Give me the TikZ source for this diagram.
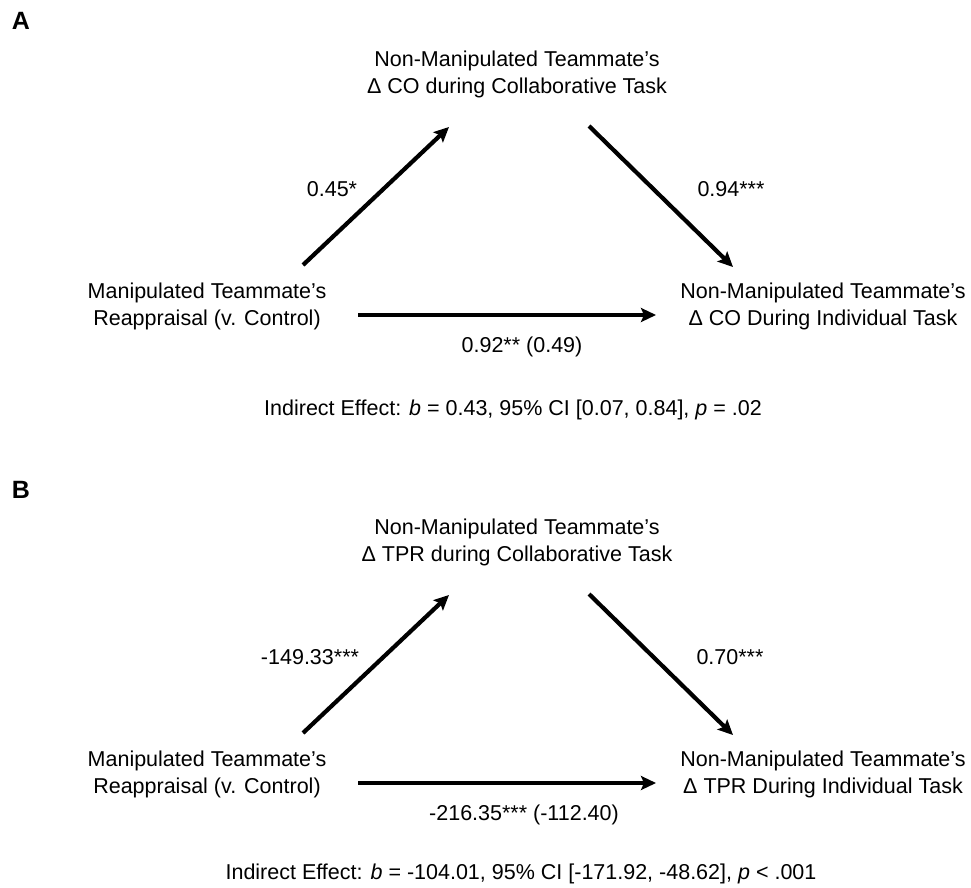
\documentclass[tikz,border=0pt]{standalone}
\usepackage{fontspec}
\setmainfont{Liberation Sans}
\usetikzlibrary{arrows.meta}
\begin{document}
\begin{tikzpicture}[x=1pt,y=-1pt,
  lbl/.style={inner sep=0pt,font=\fontsize{21.5}{27}\selectfont},
  varbox/.style={lbl,align=center},
  panel/.style={inner sep=0pt,font=\fontsize{25}{28}\selectfont\bfseries},
  path arrow/.style={line width=4.2pt,-{Stealth[length=15pt,width=14pt,inset=3pt]}}]
\useasboundingbox (0,0) rectangle (971,888);
\fill[white] (0,0) rectangle (971,888);

% ---------------- Panel A ----------------
\node[panel] (pA) at (21,21) {A};
\node[varbox] (mA) at (517,74) {Non-Manipulated Teammate’s\\Δ CO during Collaborative Task};
\node[varbox] (xA) at (207,306.5) {Manipulated Teammate’s\\Reappraisal (v. Control)};
\node[varbox] (yA) at (823,306.5) {Non-Manipulated Teammate’s\\Δ CO During Individual Task};
\coordinate (xAm) at (303,265);
\coordinate (mAx) at (449,127);
\coordinate (mAy) at (589,126);
\coordinate (yAm) at (733,267);
\coordinate (xAy) at (358,315);
\coordinate (yAx) at (656,315);
\draw[path arrow] (xAm) -- (mAx);
\draw[path arrow] (mAy) -- (yAm);
\draw[path arrow] (xAy) -- (yAx);
\node[lbl] (aA) at (332,189) {0.45*};
\node[lbl] (bA) at (731,189) {0.94***};
\node[lbl] (cA) at (522,347) {0.92** (0.49)};
\node[lbl] (iA) at (513,410) {Indirect Effect: \textit{b} = 0.43, 95\% CI [0.07, 0.84], \textit{p} = .02};

% ---------------- Panel B ----------------
\node[panel] (pB) at (21,490) {B};
\node[varbox] (mB) at (517,542) {Non-Manipulated Teammate’s\\Δ TPR during Collaborative Task};
\node[varbox] (xB) at (207,774.5) {Manipulated Teammate’s\\Reappraisal (v. Control)};
\node[varbox] (yB) at (823,774.5) {Non-Manipulated Teammate’s\\Δ TPR During Individual Task};
\coordinate (xBm) at (303,733);
\coordinate (mBx) at (449,595);
\coordinate (mBy) at (589,594);
\coordinate (yBm) at (733,735);
\coordinate (xBy) at (358,783);
\coordinate (yBx) at (656,783);
\draw[path arrow] (xBm) -- (mBx);
\draw[path arrow] (mBy) -- (yBm);
\draw[path arrow] (xBy) -- (yBx);
\node[lbl] (aB) at (310,657) {-149.33***};
\node[lbl] (bB) at (730,657) {0.70***};
\node[lbl] (cB) at (524,815) {-216.35*** (-112.40)};
\node[lbl] (iB) at (521,874) {Indirect Effect: \textit{b} = -104.01, 95\% CI [-171.92, -48.62], \textit{p} < .001};
\end{tikzpicture}
\end{document}
